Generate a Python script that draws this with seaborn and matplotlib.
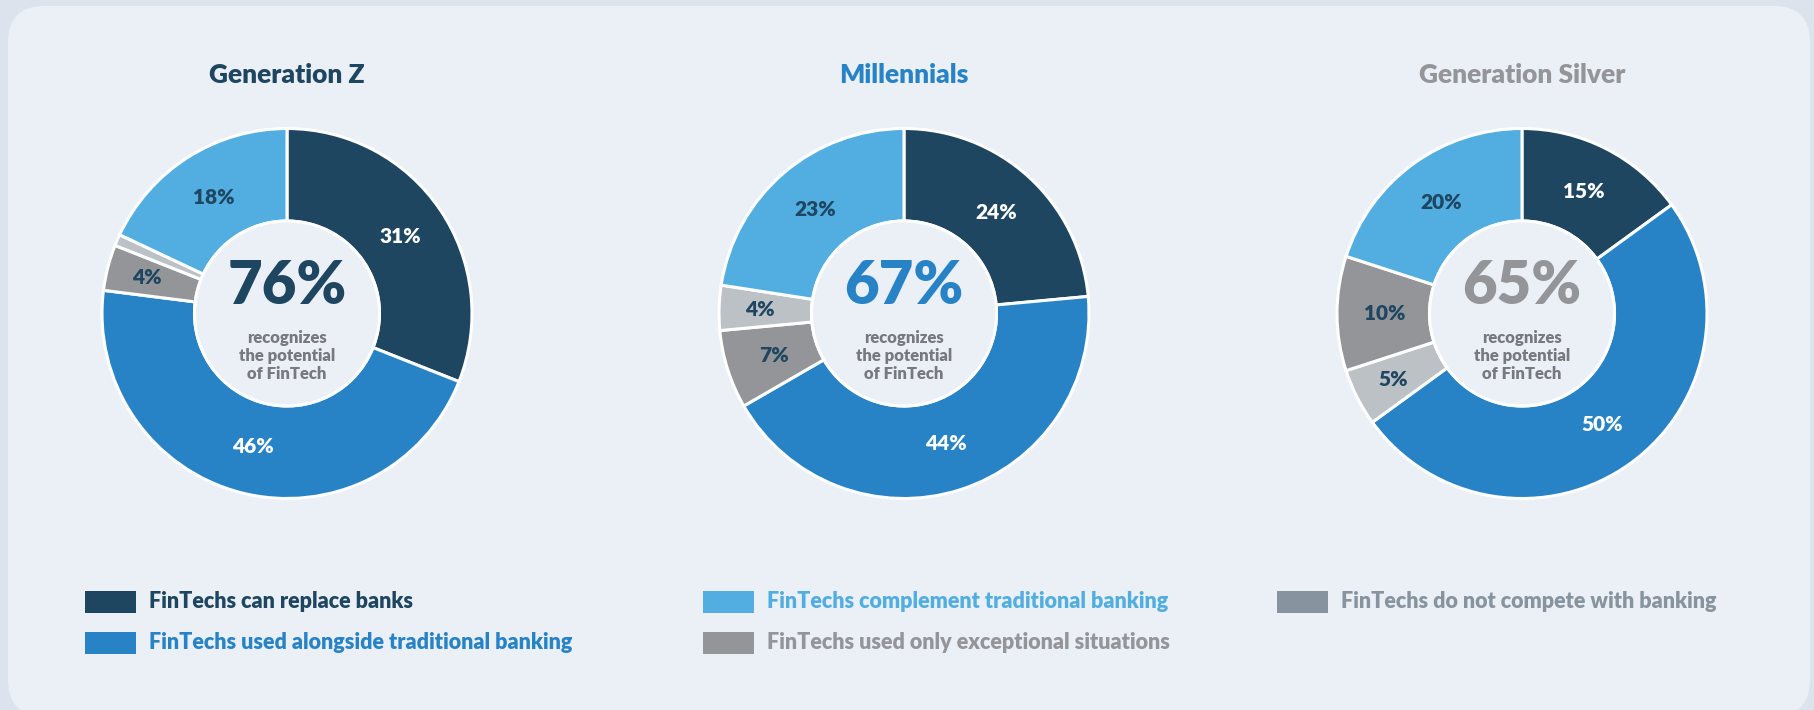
import matplotlib
matplotlib.use("Agg")
import numpy as np
import matplotlib.pyplot as plt
from matplotlib.patches import FancyBboxPatch, Rectangle, Circle
import seaborn as sns

# ---- data -------------------------------------------------------------
generations = ["Generation Z", "Millennials", "Generation Silver"]
headline = ["76%", "67%", "65%"]
subtitle = "recognizes\nthe potential\nof FinTech"

# slices clockwise from 12 o'clock, with their category per slice
genz_cats = ["replace", "alongside", "exceptional", "nocompete", "complement"]
genz_vals = [31, 46, 4, 1, 18]
mill_cats = ["replace", "alongside", "exceptional", "nocompete", "complement"]
mill_vals = [24, 44, 7, 4, 23]
silver_cats = ["replace", "alongside", "nocompete", "exceptional", "complement"]
silver_vals = [15, 50, 5, 10, 20]

legend_labels = {
    "replace": "FinTechs can replace banks",
    "alongside": "FinTechs used alongside traditional banking",
    "complement": "FinTechs complement traditional banking",
    "exceptional": "FinTechs used only exceptional situations",
    "nocompete": "FinTechs do not compete with banking",
}

# ---- styling ----------------------------------------------------------
NAVY = "#1f4660"
BLUE = "#2783c6"
LIGHT = "#52aee0"
GREY = "#939598"
PALE = "#bcc1c6"
SLATE = "#87949f"
SUBGREY = "#76797d"
CARD = "#eaf0f5"
OUTER = "#dce3ec"
HEAVY = 800

slice_colors = {"replace": NAVY, "alongside": BLUE, "complement": LIGHT,
                "exceptional": GREY, "nocompete": PALE}
label_colors = {"replace": "white", "alongside": "white", "complement": NAVY,
                "exceptional": NAVY, "nocompete": NAVY}
title_colors = [NAVY, BLUE, GREY]

sns.set_theme(style="white")
plt.rcParams["font.family"] = ["Lato", "DejaVu Sans"]

W, H, DPI = 1814, 710, 100
fig = plt.figure(figsize=(W / DPI, H / DPI), dpi=DPI, facecolor=OUTER)


def fx(px):
    return px / W


def fy(py):
    return 1 - py / H


# rounded card behind everything
card = FancyBboxPatch((fx(8), fy(716)), fx(1810) - fx(8), fy(6) - fy(716),
                      boxstyle="round,pad=0,rounding_size=0.02",
                      transform=fig.transFigure, facecolor=CARD,
                      edgecolor="none", zorder=-10,
                      mutation_aspect=W / H)
fig.patches.append(card)

centers_x = [287, 904, 1522]
center_y = 313.5
R = 185

datasets = [(genz_cats, genz_vals), (mill_cats, mill_vals), (silver_cats, silver_vals)]

for i, (cats, vals) in enumerate(datasets):
    cx = centers_x[i]
    ax = fig.add_axes([fx(cx - R - 2), fy(center_y + R + 2), 2 * (R + 2) / W, 2 * (R + 2) / H])
    ax.set_facecolor("none")
    pal = sns.color_palette([slice_colors[c] for c in cats])
    wedges, _ = ax.pie(vals, colors=pal, startangle=90, counterclock=False,
                       radius=1.0,
                       wedgeprops=dict(width=0.5, edgecolor="white", linewidth=2.2))
    ax.add_patch(Circle((0, 0), 0.5, facecolor=CARD, edgecolor="white",
                        linewidth=2.2, zorder=3))
    for w, v, c in zip(wedges, vals, cats):
        if v < 2:
            continue
        ang = np.deg2rad((w.theta1 + w.theta2) / 2)
        # thin slices get their label pushed a little further out
        r = 0.74 if v >= 6 else 0.78
        ax.text(r * np.cos(ang), r * np.sin(ang), f"{v}%", ha="center",
                va="center", fontsize=15, fontweight=HEAVY,
                color=label_colors[c], zorder=4)
    lim = (R + 2) / R
    ax.set_xlim(-lim, lim)
    ax.set_ylim(-lim, lim)
    ax.axis("off")

    fig.text(fx(cx), fy(75), generations[i], ha="center", va="center",
             fontsize=19, fontweight=HEAVY, color=title_colors[i])
    fig.text(fx(cx), fy(287), headline[i], ha="center", va="center",
             fontsize=43, fontweight=HEAVY, color=title_colors[i], zorder=5)
    fig.text(fx(cx), fy(356), subtitle, ha="center", va="center",
             fontsize=12, fontweight=HEAVY, color=SUBGREY,
             linespacing=1.15, zorder=5)

# ---- legend -----------------------------------------------------------
legend_layout = [
    ("replace", 85, 602, NAVY),
    ("alongside", 85, 642.5, BLUE),
    ("complement", 703, 602, LIGHT),
    ("exceptional", 703, 642.5, GREY),
    ("nocompete", 1277, 602, SLATE),
]
for key, x0, yc, col in legend_layout:
    sw_w, sw_h = 51, 22
    fig.patches.append(Rectangle((fx(x0), fy(yc + sw_h / 2)), sw_w / W, sw_h / H,
                                 transform=fig.transFigure, facecolor=col,
                                 edgecolor="none"))
    fig.text(fx(x0 + sw_w + 13), fy(yc), legend_labels[key], ha="left",
             va="center", fontsize=15.5, fontweight=HEAVY, color=col)

fig.savefig("out.png", dpi=DPI, facecolor=OUTER)
